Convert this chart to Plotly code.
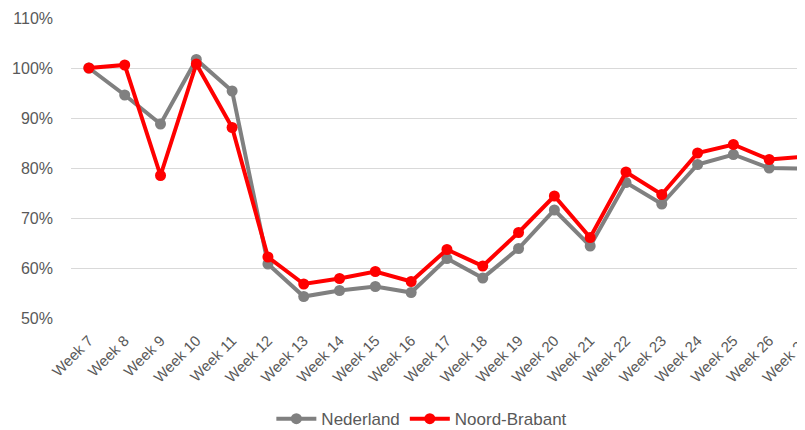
import plotly.graph_objects as go

weeks = [f"Week {w}" for w in range(7, 28)]
nederland = [100.0, 94.6, 88.8, 101.7, 95.4, 60.8, 54.3, 55.5, 56.3, 55.1, 61.9, 58.0,
             63.9, 71.6, 64.4, 77.1, 72.8, 80.7, 82.7, 80.0, 79.9]
noord_brabant = [100.0, 100.6, 78.5, 100.8, 88.1, 62.2, 56.8, 57.9, 59.3, 57.3, 63.7, 60.4,
                 67.1, 74.4, 66.1, 79.2, 74.7, 83.0, 84.7, 81.7, 82.3]
y_ticks = [50, 60, 70, 80, 90, 100, 110]

font = "Liberation Sans, Arial, sans-serif"

fig = go.Figure()
fig.add_trace(go.Scatter(
    x=weeks, y=nederland, name="Nederland", mode="lines+markers",
    line=dict(color="#808080", width=4), marker=dict(color="#808080", size=11),
))
fig.add_trace(go.Scatter(
    x=weeks, y=noord_brabant, name="Noord-Brabant", mode="lines+markers",
    line=dict(color="#ff0000", width=4), marker=dict(color="#ff0000", size=11),
))

fig.update_layout(
    width=797, height=422,
    margin=dict(l=63, r=0, t=10, b=112, autoexpand=False),
    paper_bgcolor="white", plot_bgcolor="white",
    font=dict(family=font, size=15, color="#595959"),
    showlegend=True,
    legend=dict(orientation="h", x=0.478, xanchor="center", y=-0.337, yanchor="middle",
                font=dict(size=17, color="#595959"), itemwidth=40, tracegroupgap=0),
    xaxis=dict(
        type="category", range=[-0.5, 20.0], tickangle=-45, showgrid=False,
        zeroline=False, showline=False, ticks="", tickfont=dict(size=15),
        ticklabelstandoff=10, automargin=False,
    ),
    yaxis=dict(
        range=[50, 110], tickvals=y_ticks, ticktext=[f"{v}%" for v in y_ticks],
        showgrid=True, gridcolor="#d9d9d9", gridwidth=1, zeroline=False,
        showline=False, ticks="", ticklabelstandoff=17, tickfont=dict(size=16),
        automargin=False,
    ),
)

fig.write_html("out.html")
